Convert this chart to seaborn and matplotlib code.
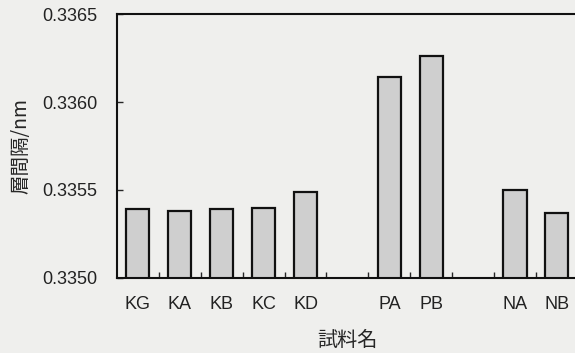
import matplotlib
matplotlib.use("Agg")
import matplotlib.pyplot as plt
import seaborn as sns
import pandas as pd

# sample names and interlayer spacing (nm)
samples = ["KG", "KA", "KB", "KC", "KD", "PA", "PB", "NA", "NB"]
spacing = [0.33539, 0.33538, 0.33539, 0.33540, 0.33549,
           0.33614, 0.33626, 0.33550, 0.33537]
# blank slots keep the gaps between the K, P and N groups
order = ["KG", "KA", "KB", "KC", "KD", " ", "PA", "PB", "  ", "NA", "NB"]
yticks = [0.3350, 0.3355, 0.3360, 0.3365]

df = pd.DataFrame({"sample": samples, "d": spacing})

sns.set_style("white")
plt.rcParams["font.family"] = ["Liberation Sans", "Noto Sans CJK JP", "DejaVu Sans"]

bg = "#efefed"
fig = plt.figure(figsize=(5.75, 3.53), dpi=100, facecolor=bg)
ax = fig.add_axes([0.2035, 0.2125, 0.80, 0.7478])
ax.set_facecolor(bg)

sns.barplot(data=df, x="sample", y="d", order=order, ax=ax, width=0.55,
            color="#cfcfcf", edgecolor="#111111", linewidth=1.6,
            saturation=1, errorbar=None)

ax.set_ylim(0.3350, 0.3365)
ax.set_xlim(-0.5, 10.48)
ax.set_yticks(yticks)
ax.set_yticklabels([f"{v:.4f}" for v in yticks], fontsize=13, color="#222222")
ax.tick_params(axis="y", direction="in", length=4, width=1, left=True, pad=14)
ax.tick_params(axis="x", length=0, labelsize=13, pad=13, labelcolor="#222222")
ax.set_xticks(range(len(order)), order)
ax.set_xticks([i + 0.5 for i in range(len(order) - 1)], minor=True)
ax.tick_params(axis="x", which="minor", direction="in", length=4, width=1, bottom=True)

for s in ["left", "bottom", "top"]:
    ax.spines[s].set_color("#111111")
    ax.spines[s].set_linewidth(1.5)
ax.spines["right"].set_visible(False)

ax.set_xlabel("試料名", fontsize=14.5, labelpad=12,
              family=["Noto Sans CJK JP", "DejaVu Sans"])
ax.set_ylabel("層間隔/nm", fontsize=14, labelpad=8,
              family=["Noto Sans CJK JP", "DejaVu Sans"])

fig.savefig("out.png", dpi=100, facecolor=bg)
